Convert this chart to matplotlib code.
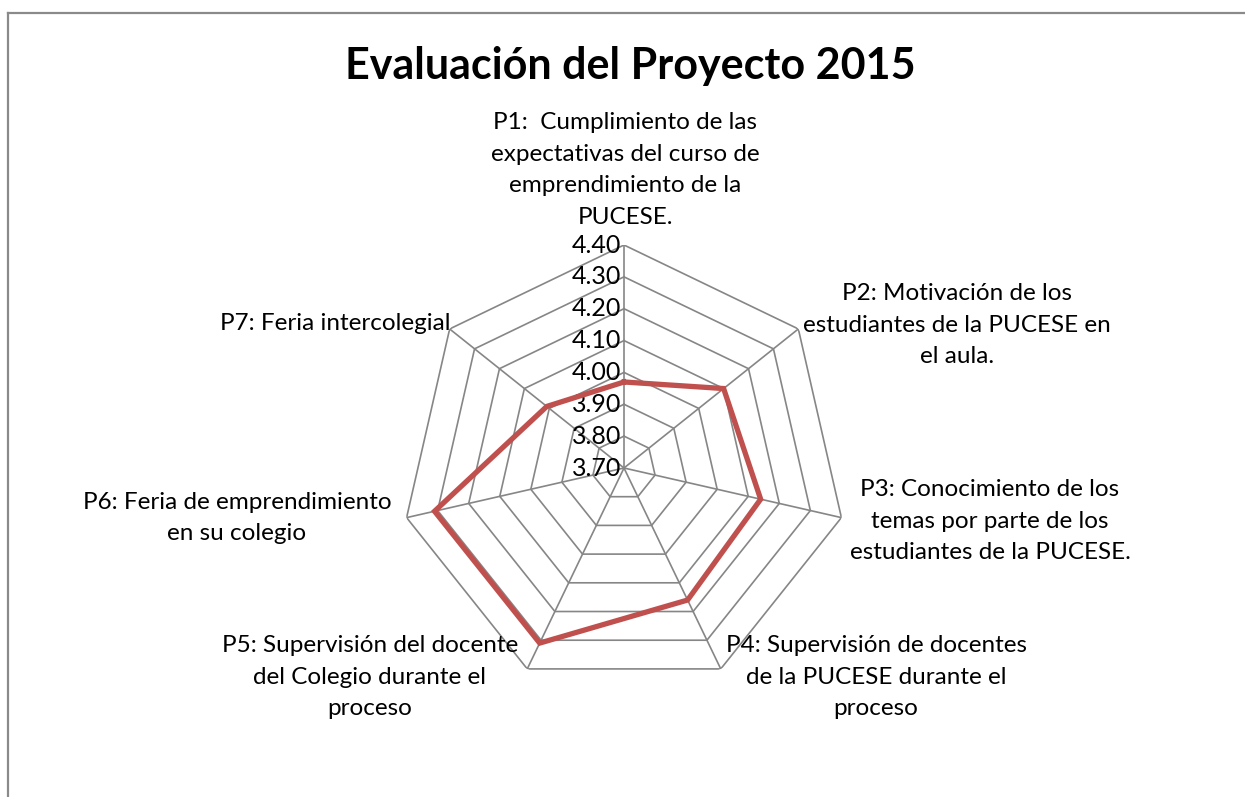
import numpy as np
import matplotlib
matplotlib.use("Agg")
import matplotlib.pyplot as plt
from matplotlib.lines import Line2D

plt.rcParams['font.family'] = ['Lato', 'DejaVu Sans']

title = "Evaluación del Proyecto 2015"
categories = [
    "P1:  Cumplimiento de las\nexpectativas del curso de\nemprendimiento de la\nPUCESE.",
    "P2: Motivación de los\nestudiantes de la PUCESE en\nel aula.",
    "P3: Conocimiento de los\ntemas por parte de los\nestudiantes de la PUCESE.",
    "P4: Supervisión de docentes\nde la PUCESE durante el\nproceso",
    "P5: Supervisión del docente\ndel Colegio durante el\nproceso",
    "P6: Feria de emprendimiento\nen su colegio",
    "P7: Feria intercolegial",
]
values = [3.97, 4.10, 4.14, 4.16, 4.31, 4.31, 4.01]
ticks = [3.70, 3.80, 3.90, 4.00, 4.10, 4.20, 4.30, 4.40]
tick_labels = ["3.70", "3.80", "3.90", "4.00", "4.10", "4.20", "4.30", "4.40"]

W, H = 1245, 797
fig = plt.figure(figsize=(W / 100, H / 100), dpi=100)
fig.patch.set_facecolor("white")

# outer frame (left and top edges visible)
fig.add_artist(Line2D([8 / W, 8 / W], [0, 1 - 13 / H], transform=fig.transFigure,
                      color="#8a8a8a", lw=1.6))
fig.add_artist(Line2D([8 / W, 1], [1 - 13 / H, 1 - 13 / H], transform=fig.transFigure,
                      color="#8a8a8a", lw=1.6))

cx, cy, R = 624, 468, 223
ax = fig.add_axes([(cx - R) / W, (H - cy - R) / H, 2 * R / W, 2 * R / H],
                  projection="polar")
ax.set_theta_zero_location("N")
ax.set_theta_direction(-1)
ax.set_ylim(ticks[0], ticks[-1])
ax.grid(False)
ax.set_xticks([])
ax.set_yticks([])
ax.spines["polar"].set_visible(False)
ax.patch.set_alpha(0)

n = len(categories)
angles = np.arange(n) * 2 * np.pi / n
angles_c = np.append(angles, angles[0])

grid_col = "#868686"
for t in ticks[1:]:
    ax.plot(angles_c, [t] * (n + 1), color=grid_col, lw=1.2, zorder=1)
for a in angles:
    ax.plot([a, a], [ticks[0], ticks[-1]], color=grid_col, lw=1.2, zorder=1)

vals_c = values + values[:1]
ax.plot(angles_c, vals_c, color="#C0504D", lw=3.8, solid_joinstyle="miter", zorder=3)

for t, lab in zip(ticks, tick_labels):
    ax.annotate(lab, xy=(0, t), xytext=(-3, 0), textcoords="offset pixels",
                ha="right", va="center", fontsize=18, color="black",
                annotation_clip=False, zorder=2)

# category label centres (pixels)
label_pos = [(625, 170), (957, 325), (990, 521), (876, 677),
             (370, 677), (237, 518), (335, 323)]
for txt, (px, py) in zip(categories, label_pos):
    fig.text(px / W, 1 - py / H, txt, ha="center", va="center",
             fontsize=17.5, linespacing=1.62, color="black")

fig.text(630 / W, 1 - 66 / H, title, ha="center", va="center",
         fontsize=31, fontweight="bold", color="black")

fig.savefig("out.png", dpi=100)
